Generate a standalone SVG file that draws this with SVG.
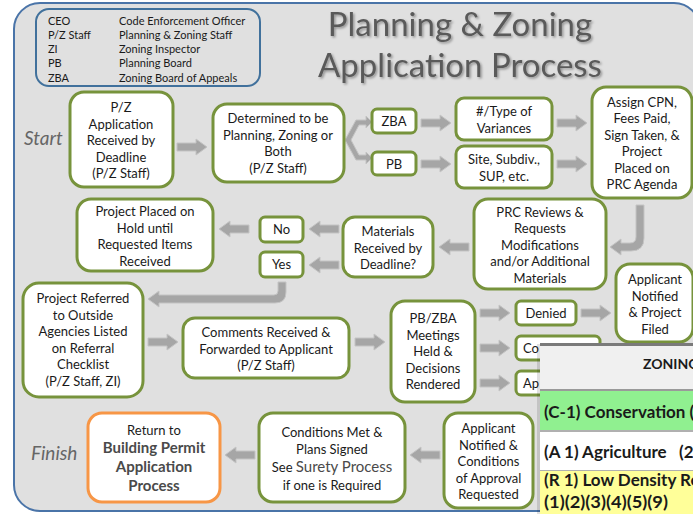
<svg xmlns="http://www.w3.org/2000/svg" xmlns:xlink="http://www.w3.org/1999/xlink" width="693" height="514" viewBox="0 0 693 514">
<defs>
<style>
.t{font-family:Lato,"Open Sans",sans-serif;font-size:13px;fill:#1a1a1a;text-anchor:middle}
.lg{font-family:Lato,"Open Sans",sans-serif;font-size:11px;fill:#1a1a1a}
.box{fill:#ffffff;stroke:#77933c;stroke-width:3}
.obox{fill:#ffffff;stroke:#f79646;stroke-width:3}
.arr{fill:#a6a6a6;stroke:#c4c4c4;stroke-width:1}
.big{font-size:15px;fill:#4a4a4a;font-weight:bold}
.side{font-family:Lato,"Open Sans",sans-serif;font-size:19px;font-style:italic;fill:#666666}
.title{font-family:Lato,"Open Sans",sans-serif;font-size:33px;fill:#5a5a5a;text-anchor:middle}
.ov{font-family:Lato,"Open Sans",sans-serif;font-size:17px;font-weight:bold;fill:#1a1a1a}
</style>
<path id="ar" class="arr" d="M0,-4 H19 V-8 L30,0 L19,8 V4 H0 Z"/>
<filter id="sh" x="-5%" y="-5%" width="110%" height="120%">
<feDropShadow dx="1.5" dy="1.5" stdDeviation="1" flood-color="#000" flood-opacity="0.35"/>
</filter>
</defs>
<rect x="0" y="0" width="693" height="514" fill="#ffffff"/>
<rect x="14" y="3" width="686" height="508" rx="26" fill="#e0e0e0" stroke="#4a74a8" stroke-width="2"/>

<g id="legend">
<rect x="36" y="9" width="224" height="77" rx="13" fill="#e0e0e0" stroke="#41719c" stroke-width="2"/>
<text class="lg" x="48" y="25">CEO</text><text class="lg" x="119" y="25">Code Enforcement Officer</text>
<text class="lg" x="48" y="39">P/Z Staff</text><text class="lg" x="119" y="39">Planning &amp; Zoning Staff</text>
<text class="lg" x="48" y="53">ZI</text><text class="lg" x="119" y="53">Zoning Inspector</text>
<text class="lg" x="48" y="67">PB</text><text class="lg" x="119" y="67">Planning Board</text>
<text class="lg" x="48" y="82">ZBA</text><text class="lg" x="119" y="82">Zoning Board of Appeals</text>
</g>

<g id="title" filter="url(#sh)">
<text class="title" x="460" y="36">Planning &amp; Zoning</text>
<text class="title" x="460" y="77">Application Process</text>
</g>

<text class="side" x="24" y="145">Start</text>
<text class="side" x="31" y="460">Finish</text>

<g id="connectors">
<use href="#ar" transform="translate(177,147)"/>
<path class="arr" d="M372,122 L366,116 L366,120 L356,120 L345,140 L356,160 L366,160 L366,164 L372,158 L366,152 L366,155 L359,155 L351,140 L359,125 L366,125 L366,128 Z"/>
<use href="#ar" transform="translate(421,123)"/>
<use href="#ar" transform="translate(421,164)"/>
<use href="#ar" transform="translate(557,123)"/>
<use href="#ar" transform="translate(557,164)"/>
<path class="arr" d="M636,205 H644 V238 Q644,251 631,251 H621 V255 L610,247 L621,239 V243 H630 Q636,243 636,237 Z"/>
<use href="#ar" transform="translate(469,247) rotate(180)"/>
<use href="#ar" transform="translate(339,229) rotate(180)"/>
<use href="#ar" transform="translate(339,265) rotate(180)"/>
<use href="#ar" transform="translate(249,229) rotate(180)"/>
<path class="arr" d="M278,282 H286 V292 Q286,303 275,303 H159 V307 L148,299 L159,291 V295 H274 Q278,295 278,291 Z"/>
<use href="#ar" transform="translate(148,342)"/>
<use href="#ar" transform="translate(355,342)"/>
<use href="#ar" transform="translate(480,313)"/>
<use href="#ar" transform="translate(480,348)"/>
<use href="#ar" transform="translate(480,383)"/>
<use href="#ar" transform="translate(581,313)"/>
<use href="#ar" transform="translate(440,455) rotate(180)"/>
<use href="#ar" transform="translate(255,455) rotate(180)"/>
</g>

<g id="n-app">
<rect class="box" x="70" y="92" width="103" height="95" rx="14"/>
<text class="t" x="121"><tspan x="121" y="112">P/Z</tspan><tspan x="121" y="128.5">Application</tspan><tspan x="121" y="145">Received by</tspan><tspan x="121" y="161.5">Deadline</tspan><tspan x="121" y="178">(P/Z Staff)</tspan></text>
</g>
<g id="n-determined">
<rect class="box" x="213" y="104" width="131" height="78" rx="14"/>
<text class="t"><tspan x="278" y="123">Determined to be</tspan><tspan x="278" y="139.5">Planning, Zoning or</tspan><tspan x="278" y="156">Both</tspan><tspan x="278" y="172.5">(P/Z Staff)</tspan></text>
</g>
<g id="n-zba">
<rect class="box" x="372" y="109" width="44" height="24" rx="5"/>
<text class="t" x="394" y="126">ZBA</text>
</g>
<g id="n-pb">
<rect class="box" x="372" y="152" width="44" height="23" rx="5"/>
<text class="t" x="394" y="168.5">PB</text>
</g>
<g id="n-variances">
<rect class="box" x="456" y="98" width="96" height="42" rx="8"/>
<text class="t"><tspan x="504" y="116">#/Type of</tspan><tspan x="504" y="132.5">Variances</tspan></text>
</g>
<g id="n-site">
<rect class="box" x="456" y="146" width="96" height="42" rx="8"/>
<text class="t"><tspan x="504" y="164">Site, Subdiv.,</tspan><tspan x="504" y="180.5">SUP, etc.</tspan></text>
</g>
<g id="n-assign">
<rect class="box" x="592" y="87" width="100" height="111" rx="14"/>
<text class="t"><tspan x="642" y="106.5">Assign CPN,</tspan><tspan x="642" y="123">Fees Paid,</tspan><tspan x="642" y="139.5">Sign Taken, &amp;</tspan><tspan x="642" y="156">Project</tspan><tspan x="642" y="172.5">Placed on</tspan><tspan x="642" y="189">PRC Agenda</tspan></text>
</g>
<g id="n-prc">
<rect class="box" x="474" y="199" width="132" height="90" rx="14"/>
<text class="t"><tspan x="540" y="216.5">PRC Reviews  &amp;</tspan><tspan x="540" y="233">Requests</tspan><tspan x="540" y="249.5">Modifications</tspan><tspan x="540" y="266">and/or Additional</tspan><tspan x="540" y="282.5">Materials</tspan></text>
</g>
<g id="n-materials">
<rect class="box" x="343" y="217" width="90" height="60" rx="12"/>
<text class="t"><tspan x="388" y="236">Materials</tspan><tspan x="388" y="252.5">Received by</tspan><tspan x="388" y="269">Deadline?</tspan></text>
</g>
<g id="n-no">
<rect class="box" x="260" y="217" width="43" height="25" rx="5"/>
<text class="t" x="281.5" y="234">No</text>
</g>
<g id="n-yes">
<rect class="box" x="260" y="252" width="43" height="25" rx="5"/>
<text class="t" x="281.5" y="269">Yes</text>
</g>
<g id="n-hold">
<rect class="box" x="77" y="199" width="136" height="72" rx="14"/>
<text class="t"><tspan x="145" y="216">Project Placed on</tspan><tspan x="145" y="232.5">Hold until</tspan><tspan x="145" y="249">Requested Items</tspan><tspan x="145" y="265.5">Received</tspan></text>
</g>
<g id="n-referred">
<rect class="box" x="23" y="283" width="120" height="114" rx="16"/>
<text class="t"><tspan x="83" y="303">Project Referred</tspan><tspan x="83" y="319.5">to Outside</tspan><tspan x="83" y="336">Agencies Listed</tspan><tspan x="83" y="352.5">on Referral</tspan><tspan x="83" y="369">Checklist</tspan><tspan x="83" y="385.5">(P/Z Staff, ZI)</tspan></text>
</g>
<g id="n-comments">
<rect class="box" x="183" y="318" width="166" height="60" rx="12"/>
<text class="t"><tspan x="266" y="337">Comments Received &amp;</tspan><tspan x="266" y="353.5">Forwarded to Applicant</tspan><tspan x="266" y="370">(P/Z Staff)</tspan></text>
</g>
<g id="n-meetings">
<rect class="box" x="391" y="301" width="84" height="101" rx="14"/>
<text class="t"><tspan x="433" y="323">PB/ZBA</tspan><tspan x="433" y="339.5">Meetings</tspan><tspan x="433" y="356">Held &amp;</tspan><tspan x="433" y="372.5">Decisions</tspan><tspan x="433" y="389">Rendered</tspan></text>
</g>
<g id="n-denied">
<rect class="box" x="516" y="301" width="60" height="24" rx="5"/>
<text class="t" x="546" y="317.5">Denied</text>
</g>
<g id="n-co">
<rect class="box" x="516" y="336" width="84" height="24" rx="5"/>
<text class="t" x="523" y="352.5" style="text-anchor:start">Co</text>
</g>
<g id="n-ap">
<rect class="box" x="516" y="371" width="84" height="24" rx="5"/>
<text class="t" x="523" y="387.5" style="text-anchor:start">Ap</text>
</g>
<g id="n-filed">
<rect class="box" x="616" y="264" width="77" height="78" rx="14"/>
<text class="t"><tspan x="655" y="284">Applicant</tspan><tspan x="655" y="300.5">Notified</tspan><tspan x="655" y="317">&amp; Project</tspan><tspan x="655" y="333.5">Filed</tspan></text>
</g>
<g id="n-return">
<rect class="obox" x="88" y="413" width="132" height="89" rx="14"/>
<text class="t"><tspan x="154" y="435">Return to</tspan><tspan x="154" y="453" class="big">Building Permit</tspan><tspan x="154" y="472" class="big">Application</tspan><tspan x="154" y="491" class="big">Process</tspan></text>
</g>
<g id="n-conditions-met">
<rect class="box" x="259" y="413" width="146" height="89" rx="14"/>
<text class="t"><tspan x="332" y="437">Conditions Met &amp;</tspan><tspan x="332" y="454">Plans Signed</tspan><tspan x="332" y="472">See <tspan class="big" style="font-weight:normal">Surety Process</tspan></tspan><tspan x="332" y="490">if one is Required</tspan></text>
</g>
<g id="n-notified-conditions">
<rect class="box" x="444" y="413" width="89" height="95" rx="14"/>
<text class="t"><tspan x="488.5" y="433">Applicant</tspan><tspan x="488.5" y="449.5">Notified &amp;</tspan><tspan x="488.5" y="466">Conditions</tspan><tspan x="488.5" y="482.5">of Approval</tspan><tspan x="488.5" y="499">Requested</tspan></text>
</g>

<g id="zoning-table">
<rect x="537" y="344" width="160" height="172" fill="#000" opacity="0.12"/>
<rect x="540" y="343" width="155" height="172" fill="#f0f0f0"/>
<rect x="540" y="343" width="155" height="3" fill="#7a7a7a"/>
<text class="ov" x="643" y="369" style="font-size:14px">ZONING</text>
<rect x="540" y="389" width="155" height="2" fill="#9a9a9a"/>
<rect x="540" y="391" width="155" height="39" fill="#90f090"/>
<rect x="540" y="430" width="155" height="2" fill="#b0b0b0"/>
<rect x="540" y="432" width="155" height="38" fill="#ffffff"/>
<rect x="540" y="470" width="155" height="1" fill="#b0b0b0"/>
<rect x="540" y="471" width="155" height="45" fill="#ffff99"/>
<text class="ov" x="544" y="418">(C-1) Conservation (</text>
<text class="ov" x="544" y="458" xml:space="preserve">(A 1) Agriculture   (2</text>
<text class="ov" x="544" y="486">(R 1) Low Density Re</text>
<text class="ov" x="544" y="508" textLength="124" lengthAdjust="spacingAndGlyphs">(1)(2)(3)(4)(5)(9)</text>
</g>
</svg>
